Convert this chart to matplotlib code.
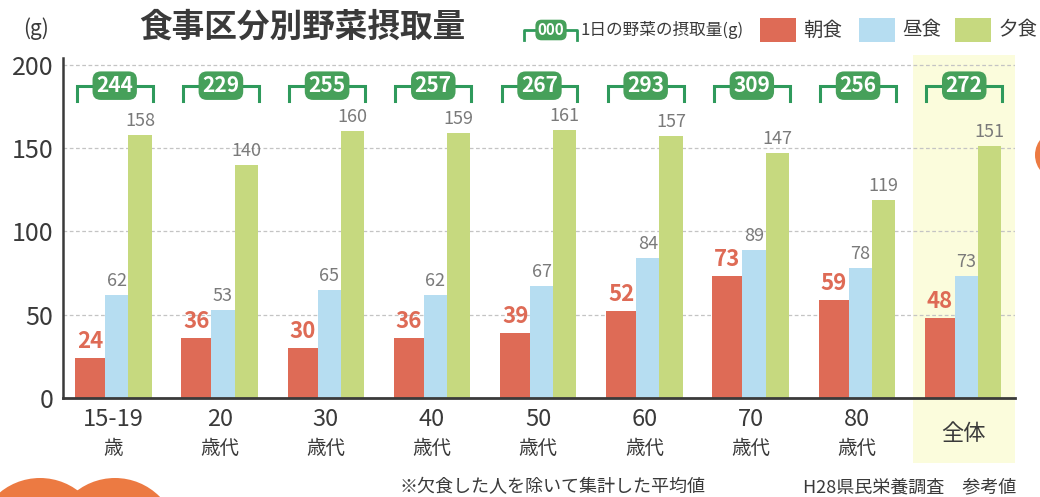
import matplotlib.pyplot as plt
import matplotlib.transforms as mtrans
from matplotlib.patches import Rectangle, Ellipse

plt.rcParams['font.family'] = ['Noto Sans CJK JP', 'DejaVu Sans']

age_top = ['15-19', '20', '30', '40', '50', '60', '70', '80', '全体']
age_bottom = ['歳', '歳代', '歳代', '歳代', '歳代', '歳代', '歳代', '歳代', '']
breakfast = [24, 36, 30, 36, 39, 52, 73, 59, 48]
lunch = [62, 53, 65, 62, 67, 84, 89, 78, 73]
dinner = [158, 140, 160, 159, 161, 157, 147, 119, 151]
totals = [244, 229, 255, 257, 267, 293, 309, 256, 272]
meal_names = ['朝食', '昼食', '夕食']

RED = '#de6b56'
BLUE = '#b6ddf1'
GREEN = '#c6d97f'
BADGE = '#46a05a'
BRACKET = '#2f9a5c'
BAND = '#fbfcdc'
DARK = '#3a3a3a'
GRAY = '#7a7a7a'
ORANGE = '#ec7a42'

W, H = 1040, 497
fig = plt.figure(figsize=(W / 100, H / 100), dpi=100)


def fx(x, y):
    return x / W, 1 - y / H


ax = fig.add_axes([63 / W, 99 / H, 952 / W, 340 / H])
ax.set_xlim(-0.475, 8.49)
ax.set_ylim(0, 204)

# highlight band for the overall group
blend = mtrans.blended_transform_factory(ax.transData, ax.transAxes)
ax.add_patch(Rectangle((7.53, -0.19), 0.96, 1.2, transform=blend,
                       facecolor=BAND, edgecolor='none', zorder=0, clip_on=False))

for yv in [50, 100, 150, 200]:
    ax.axhline(yv, color='#c4c4c4', lw=0.9, ls=(0, (3, 2)), zorder=1)

x = list(range(len(age_top)))
red_w, other_w = 0.283, 0.218
ax.bar([i - 0.36 for i in x], breakfast, width=red_w, align='edge', color=RED, zorder=2)
ax.bar([i - 0.077 for i in x], lunch, width=other_w, align='edge', color=BLUE, zorder=2)
ax.bar([i + 0.141 for i in x], dinner, width=other_w, align='edge', color=GREEN, zorder=2)

for i in x:
    ax.text(i - 0.218, breakfast[i] + 3, str(breakfast[i]), ha='center', va='bottom',
            fontsize=16, fontweight='bold', color=RED, zorder=3)
    ax.text(i + 0.032, lunch[i] + 3, str(lunch[i]), ha='center', va='bottom',
            fontsize=13, color=GRAY, zorder=3)
    ax.text(i + 0.25, dinner[i] + 3, str(dinner[i]), ha='center', va='bottom',
            fontsize=13, color=GRAY, zorder=3)
    # bracket with total badge
    ax.plot([i - 0.345, i - 0.345, i + 0.37, i + 0.37], [178, 187.4, 187.4, 178],
            color=BRACKET, lw=2.2, solid_joinstyle='miter', zorder=3, clip_on=False)
    ax.text(i + 0.012, 187.4, str(totals[i]), ha='center', va='center', fontsize=15,
            fontweight='bold', color='white', zorder=4,
            bbox=dict(boxstyle='round,pad=0.18,rounding_size=0.4', fc=BADGE, ec='none'))
    # category labels
    if age_bottom[i]:
        ax.text(i, -13, age_top[i], ha='center', va='center', fontsize=17,
                color=DARK, clip_on=False)
        ax.text(i, -30, age_bottom[i], ha='center', va='center', fontsize=14,
                color=DARK, clip_on=False)
    else:
        ax.text(i, -21, age_top[i], ha='center', va='center', fontsize=16,
                color=DARK, clip_on=False)

ax.set_xticks([])
ax.set_yticks([0, 50, 100, 150, 200])
ax.tick_params(axis='y', length=0, pad=7, labelsize=18, labelcolor=DARK)
for s in ['top', 'right']:
    ax.spines[s].set_visible(False)
ax.spines['left'].set_color(DARK)
ax.spines['left'].set_linewidth(1.8)
ax.spines['bottom'].set_color(DARK)
ax.spines['bottom'].set_linewidth(2)

# title and unit
fig.text(*fx(302, 27), '食事区分別野菜摂取量', ha='center', va='center', fontsize=23.5,
         fontweight='bold', color='#3a3a3a')
fig.text(*fx(36, 29), '(g)', ha='center', va='center', fontsize=15, color=DARK)

# legend
lx0, lx1, ly = 524, 577, 30
fig.lines.append(plt.Line2D([lx0 / W, lx0 / W, lx1 / W, lx1 / W],
                            [1 - 40 / H, 1 - ly / H, 1 - ly / H, 1 - 40 / H],
                            transform=fig.transFigure, color=BRACKET, lw=2))
fig.text(*fx(551, ly), '000', ha='center', va='center', fontsize=11, fontweight='bold',
         color='white', bbox=dict(boxstyle='round,pad=0.15,rounding_size=0.4', fc=BADGE, ec='none'))
fig.text(*fx(580, ly), '1日の野菜の摂取量(g)', ha='left', va='center', fontsize=12, color=DARK)
for px0, col, name in zip([760, 859, 955], [RED, BLUE, GREEN], meal_names):
    fig.patches.append(Rectangle(fx(px0, 42), 36 / W, 24 / H, transform=fig.transFigure,
                                 facecolor=col, edgecolor='none'))
    fig.text(*fx(px0 + 43, ly), name, ha='left', va='center', fontsize=14, color=DARK)

# footnotes
fig.text(*fx(400, 487), '※欠食した人を除いて集計した平均値', ha='left', va='center',
         fontsize=13, color=DARK)
fig.text(*fx(1016, 487), 'H28県民栄養調査　参考値', ha='right', va='center',
         fontsize=13, color=DARK)

# decorative orange shapes at the edges
for cx in [40, 115]:
    fig.patches.append(Ellipse(fx(cx, 541), 126 / W, 126 / H, transform=fig.transFigure,
                               facecolor=ORANGE, edgecolor='none'))
fig.patches.append(Ellipse(fx(1060, 155), 50 / W, 50 / H, transform=fig.transFigure,
                           facecolor=ORANGE, edgecolor='none'))

fig.savefig('out.png', dpi=100)
